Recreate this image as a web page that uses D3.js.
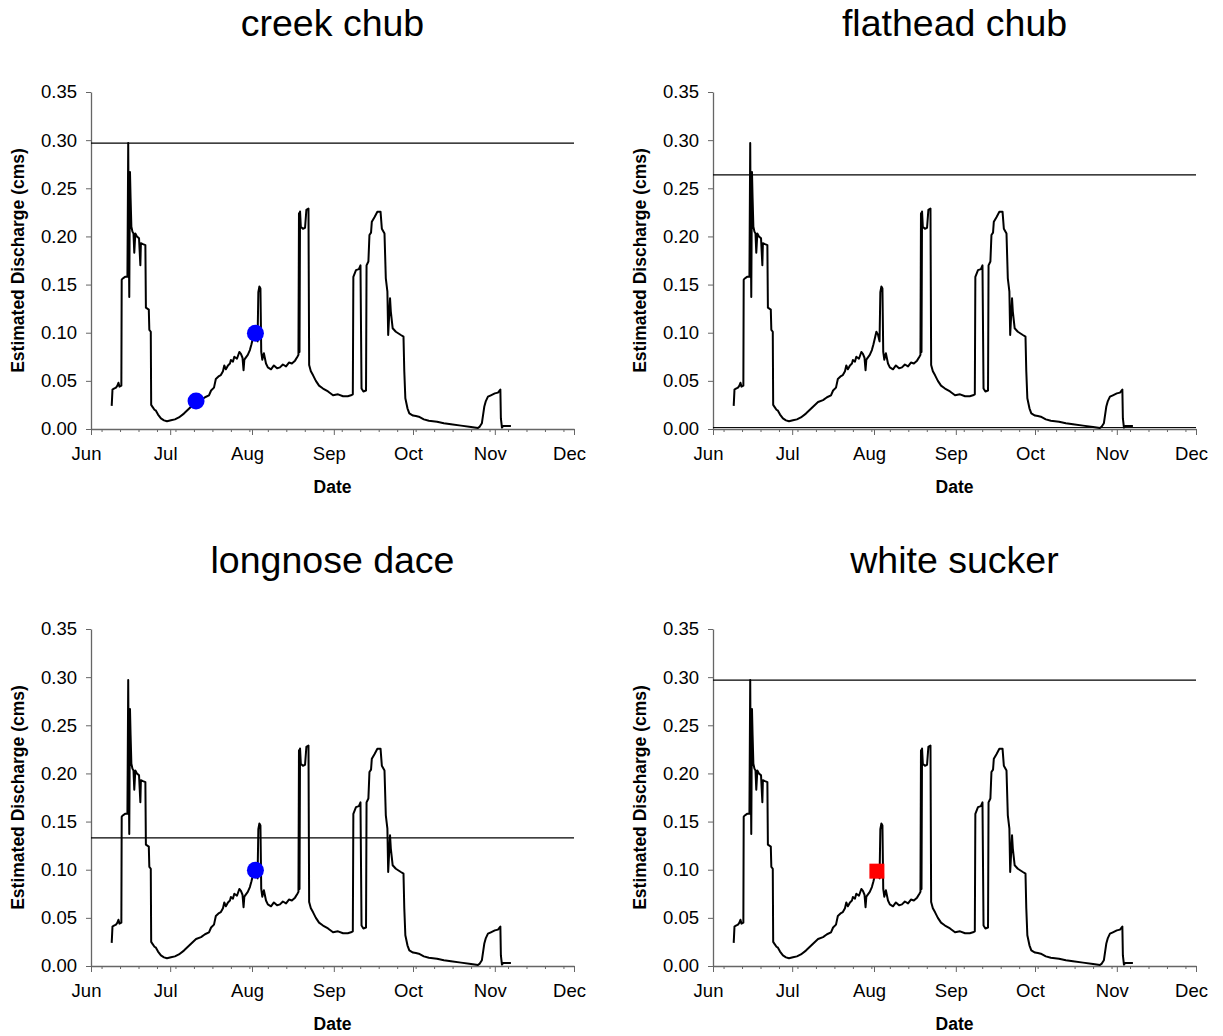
<!DOCTYPE html>
<html><head><meta charset="utf-8">
<script src="https://cdn.jsdelivr.net/npm/d3@7"></script>
<style>body{margin:0;background:#fff}svg{display:block}text{font-family:"Liberation Sans",Arial,sans-serif}</style>
</head><body>
<svg id="c" width="1223" height="1036"></svg>
<script>
// ---- DATA ----
const species = ["creek chub", "flathead chub", "longnose dace", "white sucker"];
const thresholds = [0.297, 0.264, 0.133, 0.297];
// days after 1 June (fractional) and estimated discharge (cms)
const flowDay = [7.84,7.95,8.14,8.7,9.47,10.0,10.4,10.8,11.5,11.63,11.9,12.9,13.8,14.1,14.3,14.5,14.77,15.0,15.3,15.7,16.1,16.4,16.8,17.4,18.2,18.7,18.9,19.7,20.6,20.8,21.9,22.1,22.65,22.8,23.3,24.05,24.6,25.4,26.5,27.65,28.8,30.3,31.8,33.3,35.2,37.1,38.6,39.8,41.7,43.2,44.7,45.5,46.6,47.3,48.5,49.2,50.0,50.5,51.1,51.9,52.65,53.0,53.8,54.3,55.3,56.2,56.8,57.4,57.8,58.1,59.4,60.2,60.8,61.4,61.9,62.5,63.1,63.4,63.8,64.2,64.5,64.9,65.5,66.3,67.0,68.2,69.3,70.5,71.6,72.7,73.9,75.0,76.1,77.3,78.2,78.6,78.8,79.0,79.2,79.5,80.3,81.1,81.6,82.4,82.65,83.3,84.1,85.2,86.4,87.9,89.8,91.7,93.6,95.5,97.3,98.5,99.2,99.4,100.4,101.5,102.1,102.5,103.2,104.2,104.4,105.1,105.5,106.1,106.4,107.4,108.5,109.7,110.2,111.2,111.7,112.3,112.6,113.3,113.6,114.3,115.5,117.4,118.4,118.7,119.1,119.9,120.6,122.0,123.1,124.2,126.1,128.0,131.1,133.7,136.4,140.2,144.0,146.6,147.3,148.1,149.0,149.6,150.4,151.5,153.0,154.2,155.1,155.3,155.7,156.1,158.3,159.1];
const flowCms = [0.024,0.030,0.041,0.042,0.043,0.045,0.048,0.044,0.045,0.155,0.156,0.158,0.158,0.297,0.200,0.137,0.267,0.240,0.210,0.205,0.203,0.183,0.203,0.200,0.198,0.170,0.193,0.192,0.191,0.126,0.124,0.103,0.101,0.025,0.023,0.020,0.019,0.015,0.011,0.009,0.008,0.009,0.010,0.012,0.016,0.021,0.025,0.028,0.030,0.033,0.035,0.040,0.043,0.052,0.055,0.056,0.060,0.066,0.062,0.066,0.068,0.0717,0.070,0.075,0.073,0.080,0.078,0.074,0.061,0.072,0.077,0.082,0.088,0.095,0.101,0.098,0.091,0.142,0.148,0.146,0.080,0.072,0.0786,0.068,0.064,0.062,0.066,0.063,0.064,0.067,0.065,0.069,0.068,0.071,0.075,0.077,0.224,0.080,0.226,0.210,0.208,0.209,0.2275,0.229,0.0665,0.060,0.056,0.050,0.045,0.042,0.039,0.035,0.036,0.034,0.034,0.035,0.036,0.158,0.165,0.166,0.170,0.042,0.039,0.040,0.170,0.174,0.2015,0.204,0.2153,0.220,0.2257,0.2257,0.208,0.203,0.1565,0.1426,0.0976,0.1357,0.122,0.1046,0.101,0.0976,0.0959,0.060,0.032,0.0215,0.0163,0.014,0.0135,0.0128,0.010,0.0085,0.0076,0.006,0.005,0.0035,0.002,0.001,0.0025,0.006,0.023,0.029,0.0336,0.035,0.037,0.0378,0.041,0.011,0.0015,0.003,0.003,0.003];
// capture markers per panel: [day after 1 June, cms]
const circleMarks = [[[39.8, 0.029], [62.3, 0.0995]], [], [[62.3, 0.0995]], []];
const squareMarks = [[], [], [], [[62.1, 0.0985]]];
const zeroLine = [false, true, false, false];
const monthLabels = ["Jun","Jul","Aug","Sep","Oct","Nov","Dec"];
const yTicks = [0,0.05,0.10,0.15,0.20,0.25,0.30,0.35];

// ---- DRAW ----
const base = new Date(Date.UTC(2005,5,1));
const toDate = d => new Date(base.getTime() + d*864e5);
const flow = flowDay.map((d,i)=>({date:toDate(d), v:flowCms[i]}));
const svg = d3.select("#c");
const W = 483, H = 337;
const origins = [[91,92],[713,92],[91,629],[713,629]];
const x = d3.scaleUtc().domain([base, new Date(Date.UTC(2005,11,1))]).range([0,W]);
const y = d3.scaleLinear().domain([0,0.35]).range([H,0]);
const monthTicks = d3.utcMonth.range(base, new Date(Date.UTC(2005,11,2)));
const weekTicks = d3.range(4,183,7).map(toDate);

species.forEach((name,p)=>{
  const [ox,oy] = origins[p];
  const g = svg.append("g").attr("transform",`translate(${ox},${oy})`);
  // title
  g.append("text").attr("x",W/2).attr("y",-56).attr("text-anchor","middle")
    .attr("font-size",37.5).text(name);
  // minor x ticks
  const minor = g.append("g").attr("transform",`translate(0,${H})`)
    .call(d3.axisBottom(x).tickValues(weekTicks).tickSize(3).tickFormat(""));
  minor.select(".domain").remove();
  // major x axis
  const xa = g.append("g").attr("transform",`translate(0,${H})`)
    .call(d3.axisBottom(x).tickValues(monthTicks).tickSize(6).tickSizeOuter(0).tickPadding(12)
      .tickFormat((d,i)=>monthLabels[i]));
  xa.selectAll("text").attr("font-size",18.5).attr("fill","#000").attr("dx",-5).attr("font-family","Liberation Sans, Arial");
  // y axis
  const ya = g.append("g")
    .call(d3.axisLeft(y).tickValues(yTicks).tickSize(5).tickSizeOuter(0).tickPadding(9)
      .tickFormat(d3.format(".2f")));
  ya.selectAll("text").attr("font-size",18.5).attr("fill","#000").attr("font-family","Liberation Sans, Arial");
  [minor,xa,ya].forEach(a=>{a.selectAll("line").attr("stroke","#666");a.selectAll(".domain").attr("stroke","#666").attr("stroke-width",1.3);});
  // axis titles
  g.append("text").attr("x",W/2).attr("y",H+64).attr("text-anchor","middle")
    .attr("font-size",17.5).attr("font-weight","bold").text("Date");
  g.append("text").attr("transform",`translate(${-67},${H/2}) rotate(-90)`).attr("text-anchor","middle")
    .attr("font-size",17.5).attr("font-weight","bold").text("Estimated Discharge (cms)");
  // threshold
  g.append("line").attr("x1",0).attr("x2",W).attr("y1",y(thresholds[p])).attr("y2",y(thresholds[p]))
    .attr("stroke","#000").attr("stroke-width",1.2);
  if(zeroLine[p]) g.append("line").attr("x1",0).attr("x2",W).attr("y1",y(0.0015)).attr("y2",y(0.0015))
    .attr("stroke","#000").attr("stroke-width",1);
  // flow line
  g.append("path").datum(flow).attr("fill","none").attr("stroke","#000").attr("stroke-width",2)
    .attr("stroke-linejoin","round")
    .attr("d",d3.line().x(d=>x(d.date)).y(d=>y(d.v)));
  // markers
  g.selectAll("circle.m").data(circleMarks[p]).join("circle").attr("class","m")
    .attr("cx",d=>x(toDate(d[0]))).attr("cy",d=>y(d[1])).attr("r",8.5).attr("fill","#0000ff");
  g.selectAll("rect.m").data(squareMarks[p]).join("rect").attr("class","m")
    .attr("x",d=>x(toDate(d[0]))-7.5).attr("y",d=>y(d[1])-7.5).attr("width",15).attr("height",15).attr("fill","#ff0000");
});
</script>
</body></html>
